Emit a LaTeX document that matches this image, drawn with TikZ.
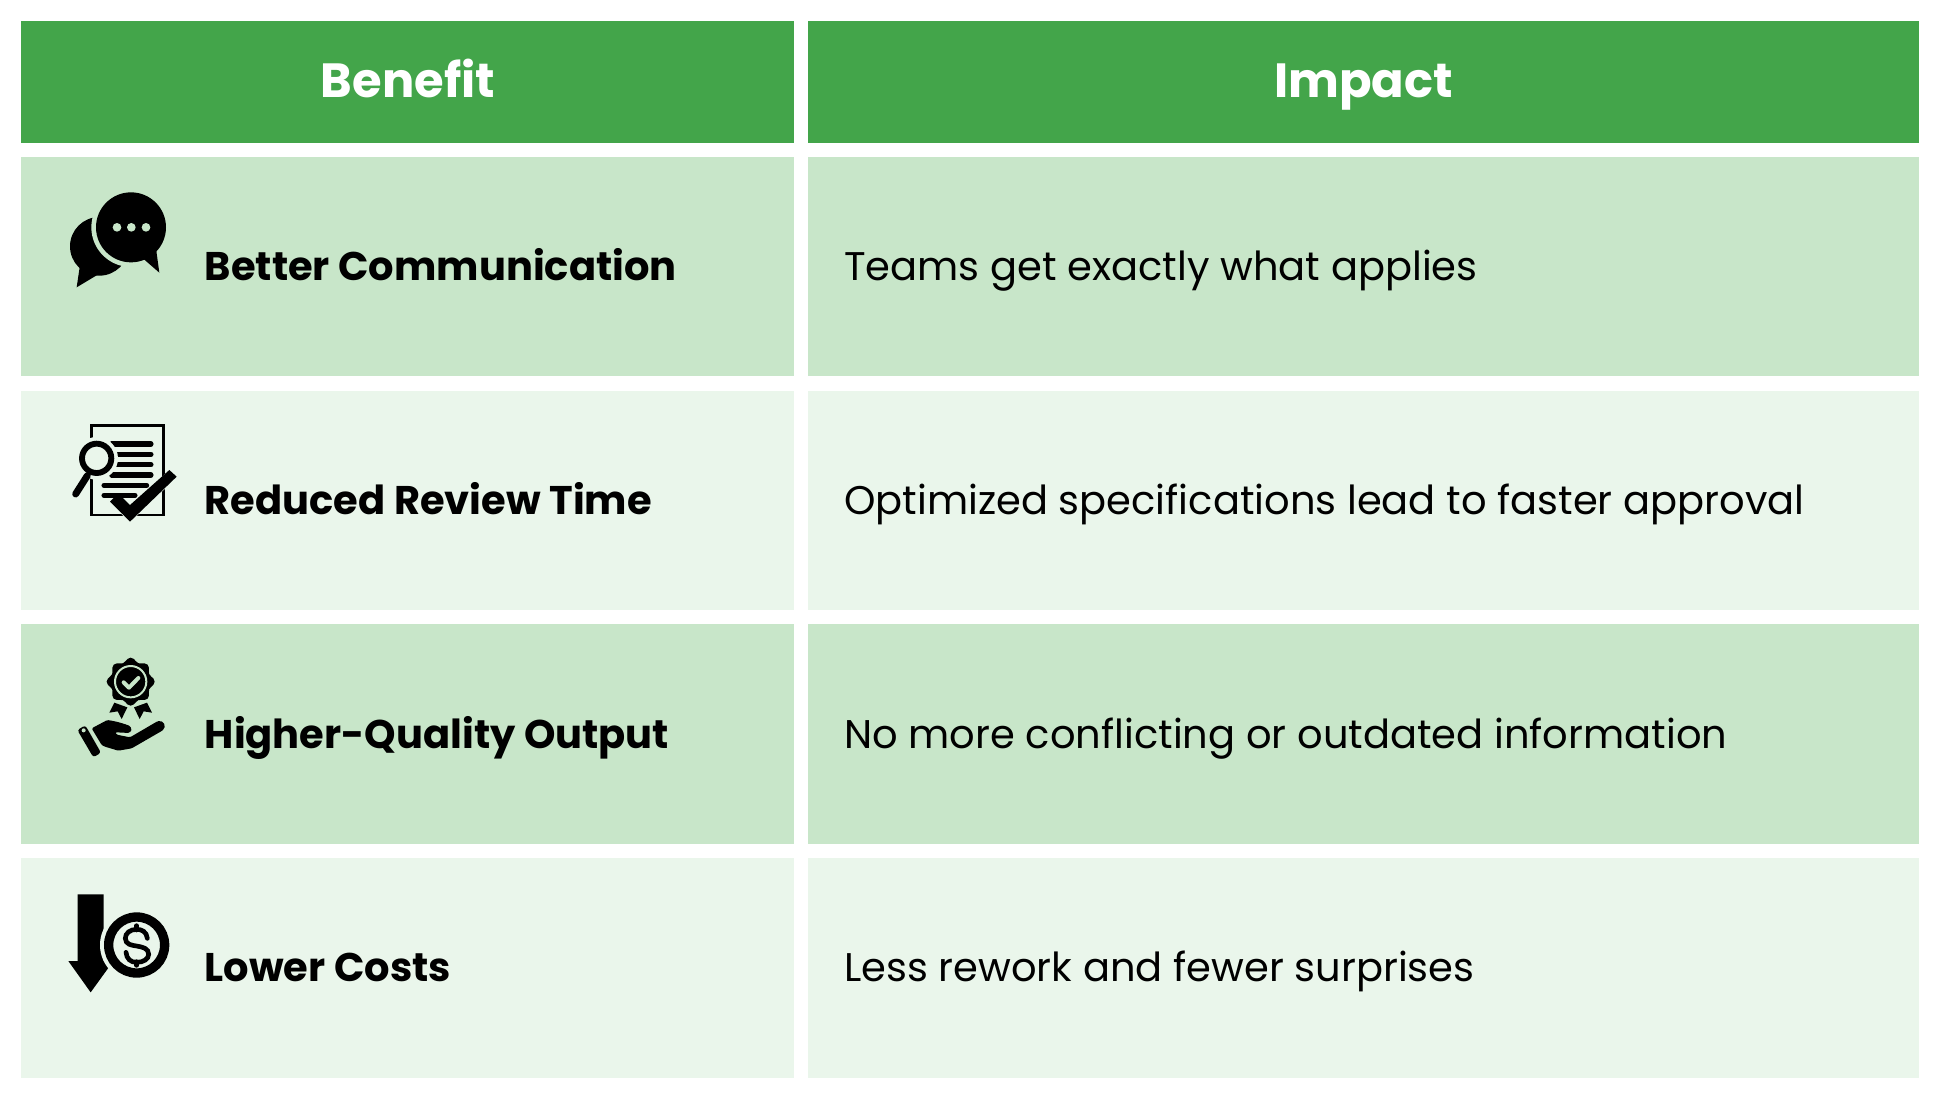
\documentclass[tikz,border=0pt]{standalone}
\usepackage{fontspec}
\setmainfont{Poppins}
\definecolor{headg}{HTML}{43A54A}
\definecolor{darkg}{HTML}{C8E6C9}
\definecolor{lightg}{HTML}{EAF6EB}
\tikzset{
  cell/.style={inner sep=0pt,outer sep=0pt,anchor=north west},
  headtext/.style={inner sep=0pt,anchor=base,text=white,font=\fontsize{36pt}{40pt}\selectfont\bfseries},
  lbl/.style={inner sep=0pt,anchor=base west,font=\fontsize{30pt}{34pt}\selectfont\bfseries},
  val/.style={inner sep=0pt,anchor=base west,font=\fontsize{30pt}{34pt}\selectfont},
  icon/.style={x=0.25pt,y=-0.25pt},
}
\newcommand{\cellbox}[6]{% name, x0,y0,x1,y1,color
  \path[fill=#6] (#2,#3) rectangle (#4,#5);
  \node[cell,minimum width=#4*0.75pt-#2*0.75pt,minimum height=#5*0.75pt-#3*0.75pt] (#1) at (#2,#3) {};
}
\begin{document}
\begin{tikzpicture}[x=0.75pt,y=-0.75pt]
\useasboundingbox (0,0) rectangle (1940,1103);
\fill[white] (0,0) rectangle (1940,1103);
\cellbox{hb}{21}{21}{794.3}{142.5}{headg}
\cellbox{hi}{808.3}{21}{1919.3}{142.5}{headg}
\cellbox{b1}{21}{156.5}{794.3}{376}{darkg}
\cellbox{i1}{808.3}{156.5}{1919.3}{376}{darkg}
\cellbox{b2}{21}{391}{794.3}{609.7}{lightg}
\cellbox{i2}{808.3}{391}{1919.3}{609.7}{lightg}
\cellbox{b3}{21}{624.3}{794.3}{844}{darkg}
\cellbox{i3}{808.3}{624.3}{1919.3}{844}{darkg}
\cellbox{b4}{21}{858.3}{794.3}{1077.5}{lightg}
\cellbox{i4}{808.3}{858.3}{1919.3}{1077.5}{lightg}
\node[headtext] (th1) at (408,97.5) {Benefit};
\node[headtext] (th2) at (1363.5,97.5) {Impact};
\node[lbl] (l1) at (204.5,280.3) {Better Communication};
\node[lbl] (l2) at (204.5,514.2) {Reduced Review Time};
\node[lbl] (l3) at (204.5,748) {Higher-Quality Output};
\node[lbl] (l4) at (204.5,981.7) {Lower Costs};
\node[val] (v1) at (844,280.3) {Teams get exactly what applies};
\node[val] (v2) at (844,514.2) {Optimized specifications lead to faster approval};
\node[val] (v3) at (844,748) {No more conflicting or outdated information};
\node[val] (v4) at (844,981.7) {Less rework and fewer surprises};
% icon 1: speech bubbles
\begin{scope}[shift={(50,170)},icon]
\fill[black] (148,229) circle[radius=88];
\fill[black] (90,285) -- (80,352) -- (140,316) -- cycle;
\fill[darkg] (243,172) circle[radius=119];
\fill[black] (243,172) circle[radius=105];
\fill[black] (275,262) -- (328,308) -- (318,235) -- cycle;
\foreach \dx in {201,244,288} \fill[darkg] (\dx,172) circle[radius=13];
\end{scope}
% icon 2: document review
\begin{scope}[shift={(50,410)},icon]
\draw[black,line width=2.2pt] (125,47) rectangle (340,315);
\foreach \yy in {102,133,164,195} \draw[black,line width=3.8pt,line cap=round] (185,\yy) -- (303,\yy);
\draw[black,line width=3.8pt,line cap=round] (162,226) -- (290,226);
\draw[black,line width=3.8pt,line cap=round] (162,256) -- (255,256);
\fill[lightg] (140,145) circle[radius=64];
\draw[lightg,line width=7pt] (110,195) -- (77,252);
\draw[black,line width=4.4pt] (140,145) circle[radius=44];
\draw[black,line width=5.2pt,line cap=round] (112,197) -- (77,252);
\draw[lightg,line width=8pt,line join=miter] (193,268) -- (240,315) -- (368,192);
\fill[black] (180,275) -- (205,250) -- (240,285) -- (358,180) -- (380,200) -- (240,335) -- cycle;
\end{scope}
% icon 3: hand with rosette
\begin{scope}[shift={(50,650)},icon]
\fill[black] plot[smooth cycle,samples=48,domain=0:352.5] ({242+(66+6*cos(8*\x))*cos(\x)},{95+(66+6*cos(8*\x))*sin(\x)});
\draw[darkg,line width=1.5pt] (242,95) circle[radius=47];
\draw[darkg,line width=3pt,line cap=round,line join=round] (221,97) -- (237,113) -- (265,84);
\fill[black] (193,158) -- (178,188) -- (203,184) -- (215,207) -- (232,172) -- cycle;
\fill[black] (291,158) -- (306,188) -- (281,184) -- (269,207) -- (252,172) -- cycle;
\fill[black,rounded corners=2pt] (82,240) -- (106,226) -- (153,308) -- (130,322) -- cycle;
\fill[darkg] (101,241) circle[radius=6];
\fill[black,rounded corners=1pt] (125,235) -- (172,210) .. controls (200,214) and (225,222) .. (240,228) .. controls (250,245) and (235,250) .. (225,248) -- (195,247) -- (200,254) -- (240,262) -- (322,214) .. controls (340,210) and (352,230) .. (335,243) -- (245,295) -- (205,302) -- (165,290) -- (155,285) -- cycle;
\end{scope}
% icon 4: arrow and coin
\begin{scope}[shift={(50,885)},icon]
\fill[black] (83,28) -- (161,28) -- (161,228) -- (190,228) -- (122,322) -- (55,228) -- (83,228) -- cycle;
\fill[lightg] (260,180) circle[radius=110];
\draw[black,line width=7pt] (260,180) circle[radius=84];
\draw[black,line width=3.5pt,line cap=round] (292,160) .. controls (290,140) and (275,133) .. (260,133) .. controls (240,133) and (226,145) .. (226,160) .. controls (226,178) and (245,181) .. (260,183) .. controls (278,186) and (296,190) .. (296,208) .. controls (296,222) and (280,232) .. (260,232) .. controls (242,232) and (230,222) .. (228,202);
\draw[black,line width=3.5pt,line cap=round] (260,122) -- (260,135);
\draw[black,line width=3.5pt,line cap=round] (260,230) -- (260,241);
\end{scope}
\end{tikzpicture}
\end{document}
